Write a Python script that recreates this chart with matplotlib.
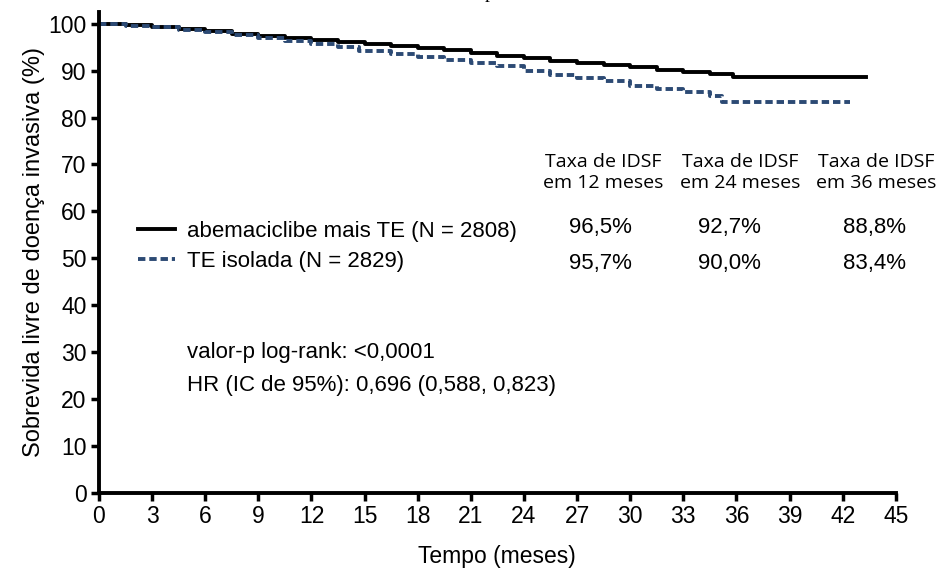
import matplotlib
matplotlib.use("Agg")
import matplotlib.pyplot as plt

# Kaplan-Meier curves (months, % free of invasive disease)
t_abema = [0, 1.5, 3, 4.5, 6, 7.5, 9, 10.5, 12, 13.5, 15, 16.5, 18, 19.5, 21, 22.5, 24,
           25.5, 27, 28.5, 30, 31.5, 33, 34.5, 35.8, 43.3]
s_abema = [100, 99.7, 99.3, 98.9, 98.4, 97.9, 97.4, 96.9, 96.5, 96.0, 95.6, 95.3, 94.9, 94.4,
           93.8, 93.2, 92.6, 92.0, 91.6, 91.2, 90.8, 90.2, 89.7, 89.2, 88.6, 88.6]
t_te = [0, 1.5, 3, 4.5, 6, 7.5, 9, 10.5, 12, 13.5, 14.7, 16.5, 18, 19.5, 21, 22.5, 24,
        25.5, 27, 28.5, 30, 31.5, 33, 34.5, 35.2, 42.4]
s_te = [100, 99.6, 99.2, 98.7, 98.2, 97.6, 97.0, 96.4, 95.7, 95.1, 94.2, 93.6, 93.0, 92.2,
        91.7, 90.9, 89.9, 89.0, 88.4, 87.8, 86.8, 86.1, 85.4, 84.5, 83.4, 83.4]

labels = ["abemaciclibe mais TE (N = 2808)", "TE isolada (N = 2829)"]
col_heads = ["Taxa de IDSF\nem 12 meses", "Taxa de IDSF\nem 24 meses", "Taxa de IDSF\nem 36 meses"]
rates_abema = ["96,5%", "92,7%", "88,8%"]
rates_te = ["95,7%", "90,0%", "83,4%"]
stats = ["valor-p log-rank: <0,0001", "HR (IC de 95%): 0,696 (0,588, 0,823)"]
xticks = list(range(0, 46, 3))
yticks = list(range(0, 101, 10))

blue = "#2c4a74"
sans = "Liberation Sans"
fig = plt.figure(figsize=(9.38, 5.69), dpi=100)
ax = fig.add_axes([0.1055, 0.1336, 0.8495, 0.8454])

ax.plot(t_abema, s_abema, drawstyle="steps-post", color="black", lw=2.8, label=labels[0])
ax.plot(t_te, s_te, drawstyle="steps-post", color=blue, lw=2.8, ls=(0, (1.9, 1.0)), label=labels[1])

ax.set_xlim(0, 45)
ax.set_ylim(0, 102.5)
ax.set_xticks(xticks)
ax.set_yticks(yticks)
for s in ["top", "right"]:
    ax.spines[s].set_visible(False)
for s in ["left", "bottom"]:
    ax.spines[s].set_linewidth(2.8)
ax.tick_params(direction="out", length=6, width=2.5, pad=3)
for lab in ax.get_xticklabels() + ax.get_yticklabels():
    lab.set_fontfamily(sans)
    lab.set_fontsize(16.5)

ax.set_xlabel("Tempo (meses)", family=sans, fontsize=16.5, labelpad=12)
ax.set_ylabel("Sobrevida livre de doença invasiva (%)", family=sans, fontsize=17, labelpad=2)

ax.legend(loc="center left", bbox_to_anchor=(0.049, 0.5125), frameon=False, borderpad=0,
          borderaxespad=0, handlelength=1.67, handletextpad=0.55, labelspacing=0.42,
          prop={"family": sans, "size": 16})

head_x = [28.46, 36.2, 43.9]
val_x = [28.3, 35.6, 43.8]
for i in range(3):
    ax.text(head_x[i], 68.3, col_heads[i], ha="center", va="center", fontsize=14,
            family="Open Sans", linespacing=1.2)
    ax.text(val_x[i], 56.5, rates_abema[i], ha="center", va="center", fontsize=16, family=sans)
    ax.text(val_x[i], 49.0, rates_te[i], ha="center", va="center", fontsize=16, family=sans)

ax.text(5.0, 29.9, stats[0], ha="left", va="center", fontsize=16, family=sans)
ax.text(5.0, 22.8, stats[1], ha="left", va="center", fontsize=16, family=sans)

# cropped title fragment at the top edge
fig.text(0.522, 1.012, "p", ha="center", va="center", fontsize=14, family="Liberation Serif")

fig.savefig("out.png", dpi=100)
